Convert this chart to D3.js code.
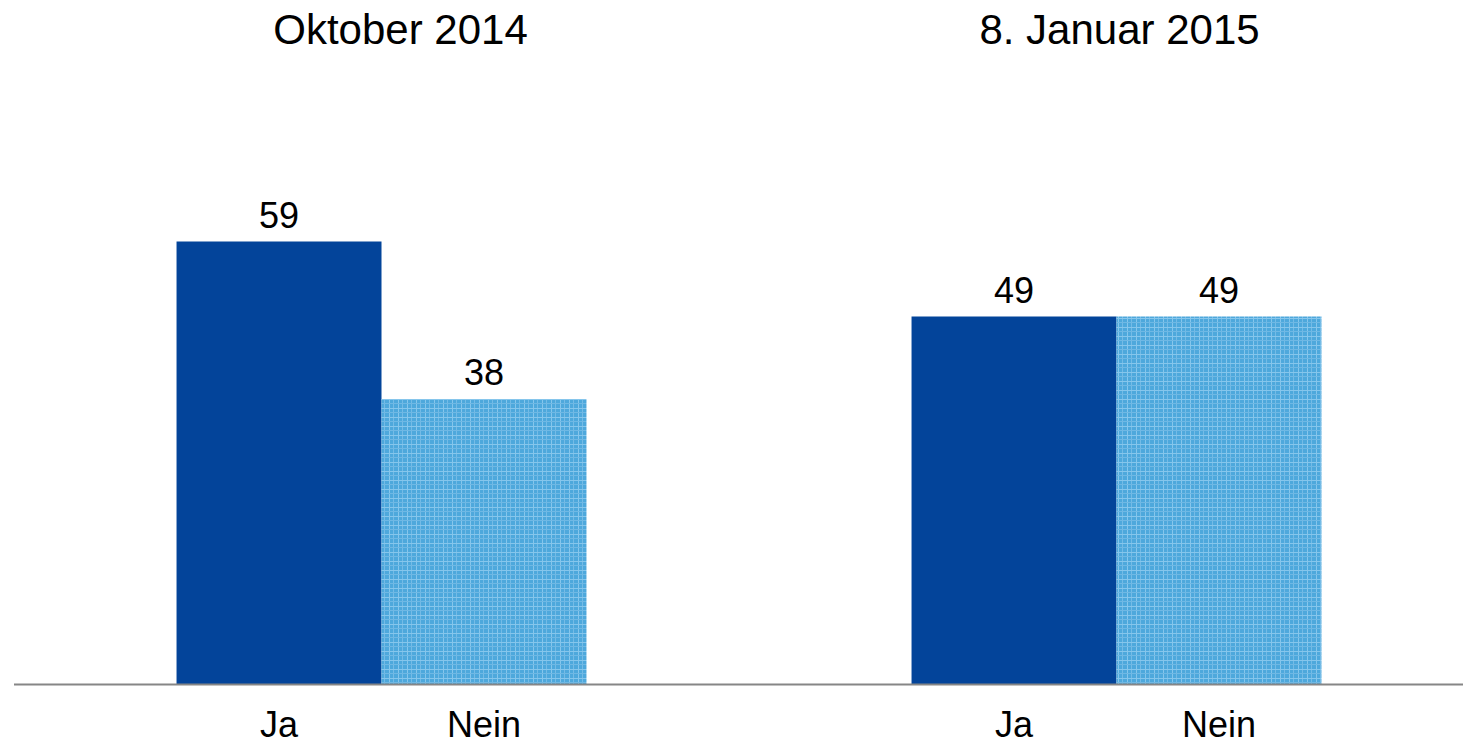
<!DOCTYPE html>
<html>
<head>
<meta charset="utf-8">
<title>Ja / Nein</title>
<script src="https://d3js.org/d3.v7.min.js"></script>
<style>
  body { margin: 0; background: #fff; }
  text { font-family: "Liberation Sans", Arial, sans-serif; fill: #000; }
</style>
</head>
<body>
<svg id="chart" width="1463" height="744"></svg>
<script>
// data
const groups = ["Oktober 2014", "8. Januar 2015"]
const answers = ["Ja", "Nein"]
const jaValues = [59, 49]
const neinValues = [38, 49]

const svg = d3.select("#chart")
const width = 1463
const baseY = 684

// pattern for the light "Nein" bars
const defs = svg.append("defs")
const pat = defs.append("pattern")
    .attr("id", "plaid")
    .attr("patternUnits", "userSpaceOnUse")
    .attr("width", 9).attr("height", 9)
pat.append("rect").attr("width", 9).attr("height", 9).attr("fill", "#4ea8dc")
pat.append("rect").attr("x", 2).attr("width", 1).attr("height", 9).attr("fill", "#86c6ec")
pat.append("rect").attr("x", 6).attr("width", 1).attr("height", 9).attr("fill", "#74bbe6")
pat.append("rect").attr("y", 3).attr("width", 9).attr("height", 1).attr("fill", "#86c6ec")
pat.append("rect").attr("y", 7).attr("width", 9).attr("height", 1).attr("fill", "#6fb8e4")

const x0 = d3.scaleBand()
    .domain(groups)
    .range([14, 1484])

const x1 = d3.scaleBand()
    .domain(answers)
    .range([0, x0.bandwidth()])
    .paddingOuter(0.793)

const y = d3.scaleLinear()
    .domain([0, 80])
    .range([baseY, baseY - 600])

const rows = []
groups.forEach((g, i) => {
    rows.push({group: g, answer: "Ja", value: jaValues[i]})
    rows.push({group: g, answer: "Nein", value: neinValues[i]})
})

const color = {"Ja": "#03449a", "Nein": "url(#plaid)"}

// bars
svg.append("g").selectAll("rect")
    .data(rows)
    .enter().append("rect")
    .attr("x", d => x0(d.group) + x1(d.answer))
    .attr("y", d => y(d.value))
    .attr("width", x1.bandwidth())
    .attr("height", d => y(0) - y(d.value))
    .attr("fill", d => color[d.answer])

// value labels
svg.append("g").selectAll("text")
    .data(rows)
    .enter().append("text")
    .attr("x", d => x0(d.group) + x1(d.answer) + x1.bandwidth() / 2)
    .attr("y", d => y(d.value) - 14)
    .attr("text-anchor", "middle")
    .style("font-size", "36px")
    .text(d => d.value)

// baseline
svg.append("line")
    .attr("x1", 14).attr("x2", width)
    .attr("y1", y(0) + 0.5).attr("y2", y(0) + 0.5)
    .attr("stroke", "#868686")
    .attr("stroke-width", 2)

// category labels under bars
svg.append("g").selectAll("text")
    .data(rows)
    .enter().append("text")
    .attr("x", d => x0(d.group) + x1(d.answer) + x1.bandwidth() / 2)
    .attr("y", 737)
    .attr("text-anchor", "middle")
    .style("font-size", "36px")
    .text(d => d.answer)

// group titles (the first one sits a little right of its bars)
svg.append("g").selectAll("text")
    .data(groups)
    .enter().append("text")
    .attr("x", (d, i) => x0(d) + x0.bandwidth() / 2 + (i === 0 ? 19 : 3))
    .attr("y", 44)
    .attr("text-anchor", "middle")
    .style("font-size", "42px")
    .text(d => d)
</script>
</body>
</html>
